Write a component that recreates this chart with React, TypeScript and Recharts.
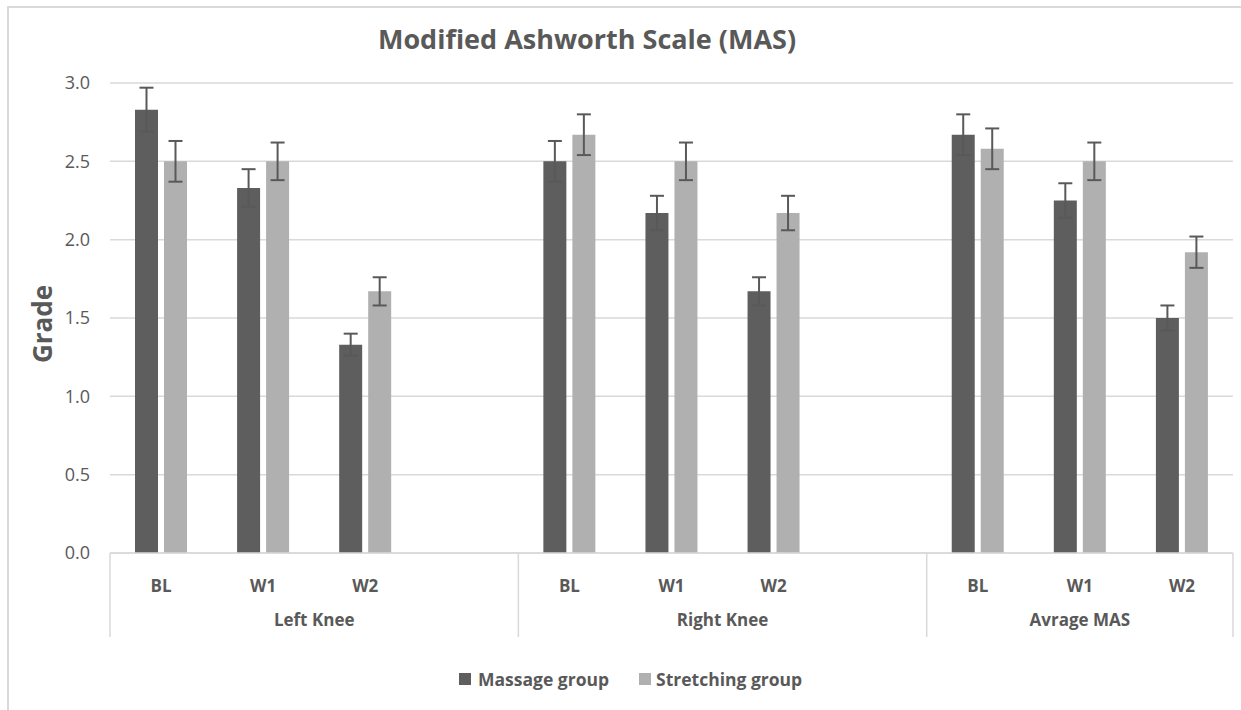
import React from 'react';
import { BarChart, Bar, XAxis, YAxis, CartesianGrid, ErrorBar } from 'recharts';

// slots per category; '' marks the empty spacer slot after each knee group
const categories = ['BL', 'W1', 'W2', '', 'BL', 'W1', 'W2', '', 'BL', 'W1', 'W2'];
const groupNames = ['Left Knee', 'Right Knee', 'Avrage MAS'];
const groupOf = [0, 0, 0, 0, 1, 1, 1, 1, 2, 2, 2];

const massage = [2.83, 2.33, 1.33, null, 2.5, 2.17, 1.67, null, 2.67, 2.25, 1.5];
const stretching = [2.5, 2.5, 1.67, null, 2.67, 2.5, 2.17, null, 2.58, 2.5, 1.92];
const massageErr = [0.14, 0.12, 0.07, null, 0.13, 0.11, 0.09, null, 0.13, 0.11, 0.08];
const stretchingErr = [0.13, 0.12, 0.09, null, 0.13, 0.12, 0.11, null, 0.13, 0.12, 0.1];

const yTicks = [0, 0.5, 1, 1.5, 2, 2.5, 3];

const FONT = '"Open Sans", "Noto Sans", sans-serif';
const TEXT = '#595959';
const MASSAGE_COLOR = '#5e5e5e';
const STRETCH_COLOR = '#b0b0b0';
const LINE = '#d9d9d9';

const WIDTH = 1241;
const HEIGHT = 710;
const MARGIN = { top: 83, right: 8, bottom: 67, left: 10 };
const Y_AXIS_W = 100;
const PLOT_W = WIDTH - MARGIN.left - MARGIN.right - Y_AXIS_W;
const SLOT = PLOT_W / categories.length;

const rows = categories.map((label, i) => ({
  id: `c${i}`,
  label,
  group: groupOf[i],
  massage: massage[i],
  stretching: stretching[i],
  massageErr: massageErr[i],
  stretchingErr: stretchingErr[i],
}));

const groupSize = (g: number) => groupOf.filter((x) => x === g).length;

interface TickProps {
  x?: number;
  y?: number;
  payload?: { value: string; index: number };
  index?: number;
}

const CategoryTick = ({ x = 0, y = 0, payload, index }: TickProps) => {
  const i = index ?? payload?.index ?? 0;
  const row = rows[i];
  const isFirst = i === 0 || groupOf[i - 1] !== row.group;
  const isLast = i === rows.length - 1;
  const left = x - SLOT / 2;
  const span = groupSize(row.group) * SLOT;
  return (
    <g>
      {row.label && (
        <text x={x} y={y + 39} textAnchor="middle" fill={TEXT} fontSize={17} fontWeight={700} fontFamily={FONT}>
          {row.label}
        </text>
      )}
      {isFirst && (
        <>
          <line x1={left} x2={left} y1={y} y2={y + 84} stroke={LINE} strokeWidth={1.5} />
          <text x={left + span / 2} y={y + 73} textAnchor="middle" fill={TEXT} fontSize={17} fontWeight={700} fontFamily={FONT}>
            {groupNames[row.group]}
          </text>
        </>
      )}
      {isLast && <line x1={x + SLOT / 2} x2={x + SLOT / 2} y1={y} y2={y + 84} stroke={LINE} strokeWidth={1.5} />}
    </g>
  );
};

export default function App() {
  return (
    <div style={{ position: 'absolute', left: 0, top: 0, width: WIDTH, height: HEIGHT, overflow: 'hidden', background: '#fff', fontFamily: FONT }}>
      <div style={{ position: 'absolute', left: 7, top: 6, width: 1300, height: 800, border: `2px solid ${LINE}`, boxSizing: 'border-box' }} />

      <div style={{ position: 'absolute', left: 0, width: 1174, top: 20, textAlign: 'center', fontSize: 27, fontWeight: 700, color: TEXT }}>
        Modified Ashworth Scale (MAS)
      </div>

      <div style={{ position: 'absolute', left: 42, top: 324, transform: 'translate(-50%, -50%) rotate(-90deg)', fontSize: 26, fontWeight: 700, color: TEXT, whiteSpace: 'nowrap' }}>
        Grade
      </div>

      <BarChart width={WIDTH} height={HEIGHT} data={rows} margin={MARGIN} barSize={23} barGap={6} style={{ position: 'absolute', left: 0, top: 0 }}>
        <CartesianGrid vertical={false} stroke={LINE} strokeWidth={1.5} />
        <XAxis
          dataKey="id"
          interval={0}
          tickLine={false}
          tickSize={0}
          tickMargin={0}
          axisLine={{ stroke: LINE, strokeWidth: 1.5 }}
          height={90}
          tick={<CategoryTick />}
        />
        <YAxis
          width={Y_AXIS_W}
          domain={[0, 3]}
          ticks={yTicks}
          tickFormatter={(v: number) => v.toFixed(1)}
          axisLine={false}
          tickLine={false}
          tickSize={0}
          tickMargin={20}
          tick={{ fill: TEXT, fontSize: 18, fontFamily: FONT }}
        />
        <Bar dataKey="massage" name="Massage group" fill={MASSAGE_COLOR} isAnimationActive={false}>
          <ErrorBar dataKey="massageErr" width={7} stroke={TEXT} strokeWidth={2} />
        </Bar>
        <Bar dataKey="stretching" name="Stretching group" fill={STRETCH_COLOR} isAnimationActive={false}>
          <ErrorBar dataKey="stretchingErr" width={7} stroke={TEXT} strokeWidth={2} />
        </Bar>
      </BarChart>

      <div style={{ position: 'absolute', left: 459, top: 667, display: 'flex', alignItems: 'center', fontSize: 17.5, fontWeight: 700, color: TEXT }}>
        <span style={{ width: 12, height: 12, background: MASSAGE_COLOR, marginRight: 7 }} />
        <span>Massage group</span>
        <span style={{ width: 12, height: 12, background: STRETCH_COLOR, marginLeft: 30, marginRight: 5 }} />
        <span>Stretching group</span>
      </div>
    </div>
  );
}
